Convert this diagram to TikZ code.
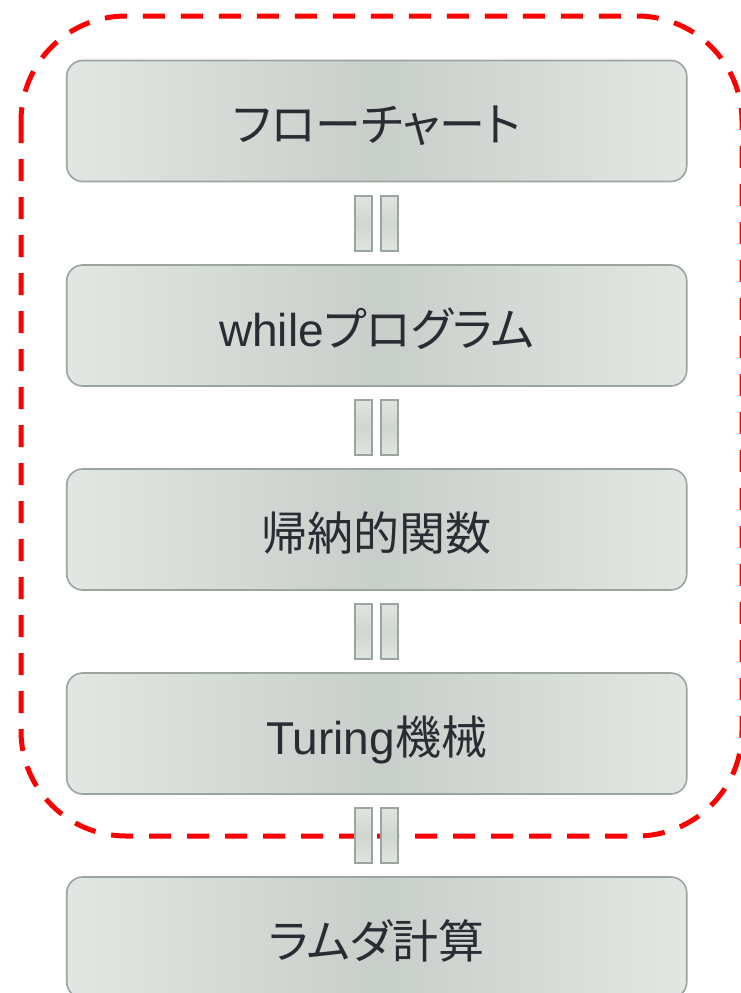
\documentclass[tikz,border=0pt]{standalone}
\usepackage{fontspec}
\setmainfont{Liberation Sans}
\newfontfamily\cjk[RawFeature=+palt]{Noto Sans CJK JP}
\usetikzlibrary{calc}
\definecolor{boxedge}{HTML}{9AA59E}
\definecolor{boxout}{HTML}{E2E7E3}
\definecolor{boxmid}{HTML}{C8CEC9}
\definecolor{barout}{HTML}{E0E5E1}
\definecolor{barmid}{HTML}{D0D6D2}
\definecolor{txt}{HTML}{2A2B33}
\tikzset{
  stage/.style={draw=boxedge, line width=1.6pt, rounded corners=16pt,
    minimum width=620pt, minimum height=121pt, inner sep=0pt,
    text height=46pt, text depth=5pt,
    left color=boxout, right color=boxout, middle color=boxmid,
    text=txt, font=\fontsize{46}{52}\selectfont},
  bar/.style={draw=boxedge, line width=2pt, minimum width=17pt,
    minimum height=55pt, inner sep=0pt,
    top color=barout, bottom color=barout, middle color=barmid},
  group/.style={draw=red, line width=5pt, dash pattern=on 22pt off 16pt,
    rounded corners=105pt}
}
\begin{document}
\begin{tikzpicture}[x=1pt,y=-1pt]
\useasboundingbox (0,0) rectangle (740,993);
\node[stage] (b1) at (376.75,121) {\cjk フローチャート};
\node[stage] (b2) at (376.75,325.5) {while\cjk プログラム};
\node[stage] (b3) at (376.75,529.5) {\cjk 帰納的関数};
\node[stage] (b4) at (376.75,733.5) {Turing\cjk 機械};
\node[stage] (b5) at (376.75,937.5) {\cjk ラムダ計算};
\draw[group] (21,16) rectangle (742,836);
\foreach \a/\b [count=\i] in {b1/b2,b2/b3,b3/b4,b4/b5}{
  \coordinate (m\i) at ($(\a.south)!0.5!(\b.north)$);
  \node[bar] (l\i) at ($(m\i)+(-13.5,0)$) {};
  \node[bar] (r\i) at ($(m\i)+(13,0)$) {};
}
\end{tikzpicture}
\end{document}
